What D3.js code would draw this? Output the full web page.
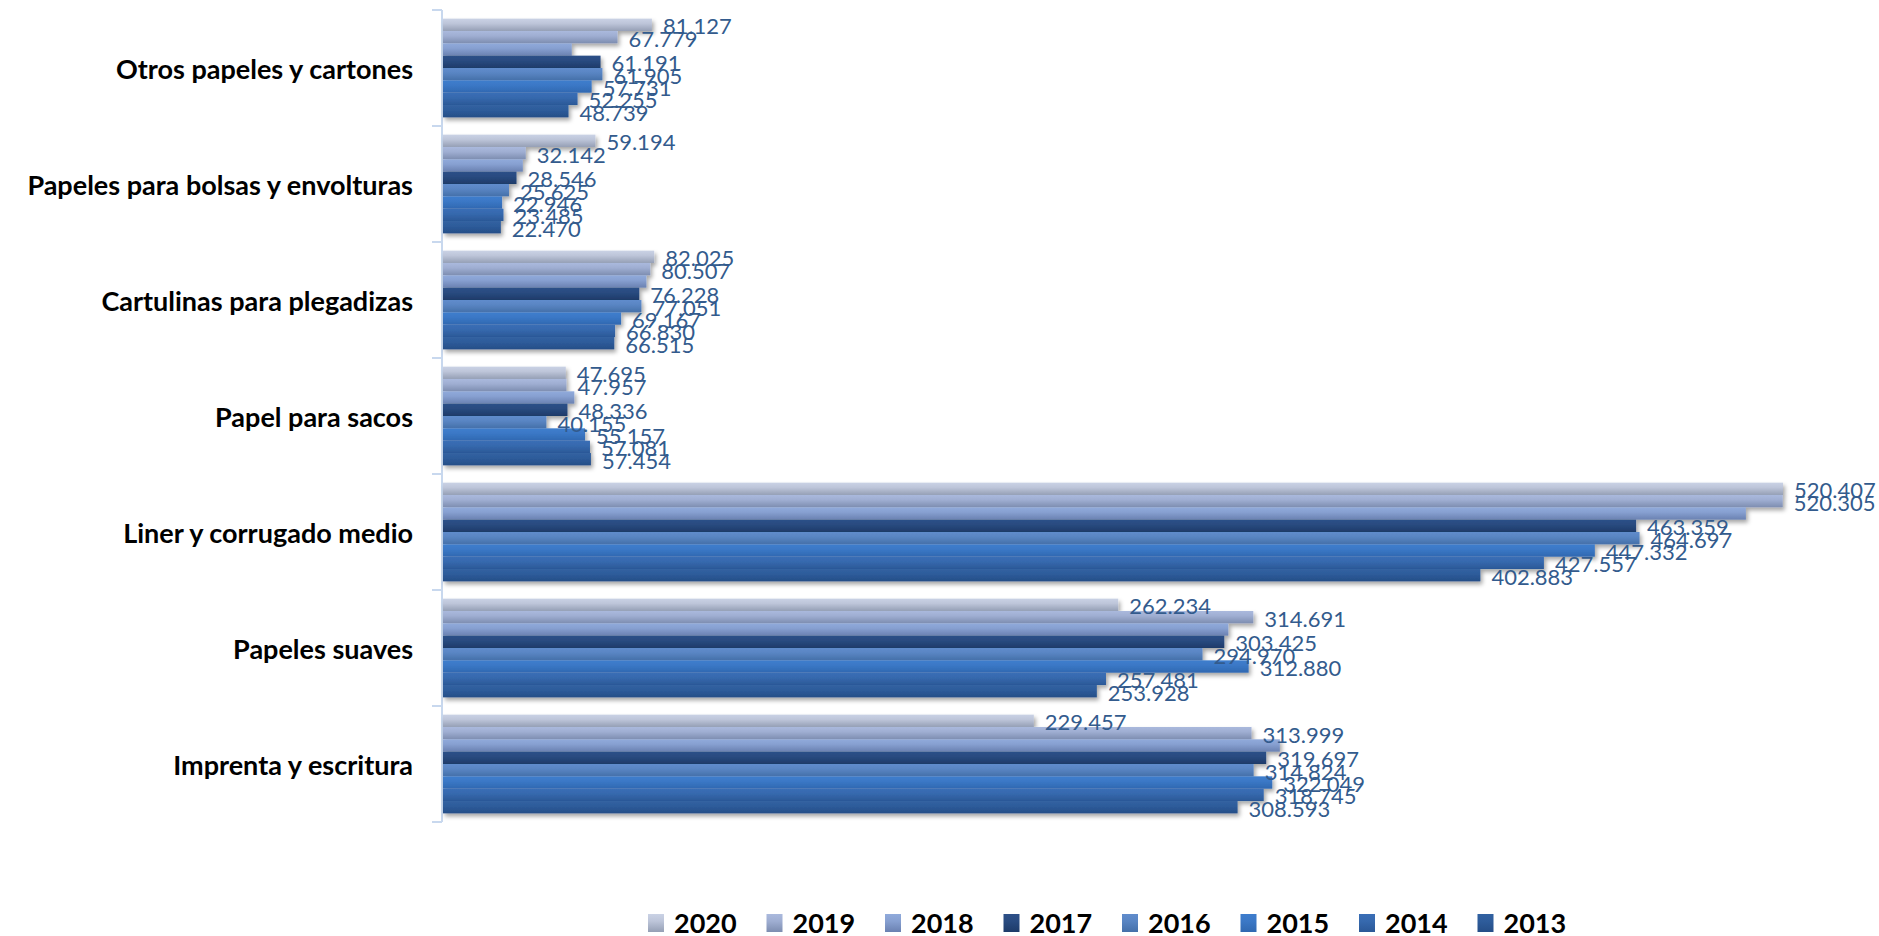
<!DOCTYPE html>
<html>
<head>
<meta charset="utf-8">
<script src="https://cdnjs.cloudflare.com/ajax/libs/d3/7.8.5/d3.min.js"></script>
<style>
  html, body { margin: 0; padding: 0; background: #ffffff; }
  svg { display: block; }
</style>
</head>
<body>
<svg id="chart" width="1879" height="936"></svg>
<script>
// ---------- data ----------
const categories = [
  "Otros papeles y cartones",
  "Papeles para bolsas y envolturas",
  "Cartulinas para plegadizas",
  "Papel para sacos",
  "Liner y corrugado medio",
  "Papeles suaves",
  "Imprenta y escritura"
];
const years = ["2020", "2019", "2018", "2017", "2016", "2015", "2014", "2013"];
const v2020 = [81127, 59194, 82025, 47695, 520407, 262234, 229457];
const v2019 = [67779, 32142, 80507, 47957, 520305, 314691, 313999];
const v2018 = [50000, 31000, 79000, 51000, 506000, 305000, 325000]; // (no labels shown)
const v2017 = [61191, 28546, 76228, 48336, 463359, 303425, 319697];
const v2016 = [61905, 25625, 77051, 40155, 464697, 294970, 314824];
const v2015 = [57731, 22946, 69167, 55157, 447332, 312880, 322049];
const v2014 = [52255, 23485, 66830, 57081, 427557, 257481, 318745];
const v2013 = [48739, 22470, 66515, 57454, 402883, 253928, 308593];
const seriesValues = [v2020, v2019, v2018, v2017, v2016, v2015, v2014, v2013];
const labelledYears = ["2020", "2019", "2017", "2016", "2015", "2014", "2013"];

// ---------- styles ----------
const topColors    = ["#cad2e5", "#aab9dd", "#90aadb", "#2d5088", "#608ccc", "#3e7dcd", "#3a6eb6", "#3161a1"];
const bottomColors = ["#959fb5", "#7d8db0", "#6a81b1", "#1e3b69", "#4570a9", "#3068b1", "#2b5897", "#254e87"];

const svg = d3.select("#chart");
const defs = svg.append("defs");

years.forEach((y, i) => {
  const g = defs.append("linearGradient")
    .attr("id", "grad" + y).attr("x1", 0).attr("y1", 0).attr("x2", 0).attr("y2", 1);
  g.append("stop").attr("offset", "0%").attr("stop-color", topColors[i]);
  g.append("stop").attr("offset", "40%").attr("stop-color", d3.interpolateRgb(topColors[i], bottomColors[i])(0.25));
  g.append("stop").attr("offset", "100%").attr("stop-color", bottomColors[i]);
});

const shadow = defs.append("filter").attr("id", "shadow")
  .attr("x", "-5%").attr("y", "-20%").attr("width", "120%").attr("height", "160%");
shadow.append("feDropShadow").attr("dx", 2).attr("dy", 3).attr("stdDeviation", 2)
  .attr("flood-color", "#000").attr("flood-opacity", 0.35);

// ---------- scales ----------
const y0 = d3.scaleBand().domain(categories).range([10, 822]).padding(0);
const y1 = d3.scaleBand().domain(years).range([0, y0.bandwidth()]).paddingInner(0).paddingOuter(0.7);
const x = d3.scaleLinear().domain([0, 520407]).range([443, 1783]);

const fmt = d3.formatLocale({ decimal: ",", thousands: ".", grouping: [3], currency: ["", ""] }).format(",d");

// ---------- axis ----------
const yAxis = d3.axisLeft(y0).tickSize(10).tickFormat("");
const axisG = svg.append("g").attr("transform", `translate(${x(0) - 1},0)`).call(yAxis);
axisG.select(".domain").attr("stroke", "#c8d8ee").attr("stroke-width", 2).attr("d", `M0,${y0.range()[0]}V${y0.range()[1]}`);
// ticks at group boundaries
axisG.selectAll(".tick").remove();
const boundaries = categories.map(c => y0(c)).concat([y0.range()[1]]);
axisG.selectAll("line.bound").data(boundaries).enter().append("line")
  .attr("class", "bound")
  .attr("x1", -10).attr("x2", 0)
  .attr("y1", d => d).attr("y2", d => d)
  .attr("stroke", "#c8d8ee").attr("stroke-width", 2);

// category labels
svg.append("g").selectAll("text").data(categories).enter().append("text")
  .attr("x", 413)
  .attr("y", d => y0(d) + y0.bandwidth() / 2)
  .attr("text-anchor", "end")
  .attr("dominant-baseline", "central")
  .attr("font-family", "Lato, 'Open Sans', sans-serif")
  .attr("font-weight", "bold")
  .attr("font-size", 27)
  .attr("fill", "#000")
  .text(d => d);

// ---------- bars ----------
const flat = [];
years.forEach((yr, si) => {
  categories.forEach((c, ci) => {
    flat.push({ year: yr, cat: c, value: seriesValues[si][ci] });
  });
});

const barG = svg.append("g").attr("filter", "url(#shadow)");
barG.selectAll("rect").data(flat).enter().append("rect")
  .attr("x", x(0))
  .attr("y", d => y0(d.cat) + y1(d.year))
  .attr("height", y1.bandwidth())
  .attr("width", d => x(d.value) - x(0))
  .attr("fill", d => `url(#grad${d.year})`);

// value labels
svg.append("g").selectAll("text")
  .data(flat.filter(d => labelledYears.includes(d.year)))
  .enter().append("text")
  .attr("x", d => x(d.value) + 11)
  .attr("y", d => y0(d.cat) + y1(d.year) + y1.bandwidth() / 2 + 1)
  .attr("dominant-baseline", "central")
  .attr("font-family", "Lato, 'Open Sans', sans-serif")
  .attr("font-size", 22)
  .attr("fill", "#335b8d")
  .text(d => fmt(d.value));

// ---------- legend ----------
const lx = d3.scaleBand().domain(years).range([648, 648 + 8 * 118.5]).padding(0);
const leg = svg.append("g").selectAll("g").data(years).enter().append("g")
  .attr("transform", d => `translate(${lx(d)},922)`);
leg.append("rect")
  .attr("x", 0).attr("y", -8).attr("width", 16).attr("height", 18)
  .attr("fill", d => `url(#grad${d})`);
leg.append("text")
  .attr("x", 26).attr("y", 0)
  .attr("dominant-baseline", "central")
  .attr("font-family", "Lato, 'Open Sans', sans-serif")
  .attr("font-weight", "bold")
  .attr("font-size", 27)
  .attr("fill", "#000")
  .text(d => d);
</script>
</body>
</html>
